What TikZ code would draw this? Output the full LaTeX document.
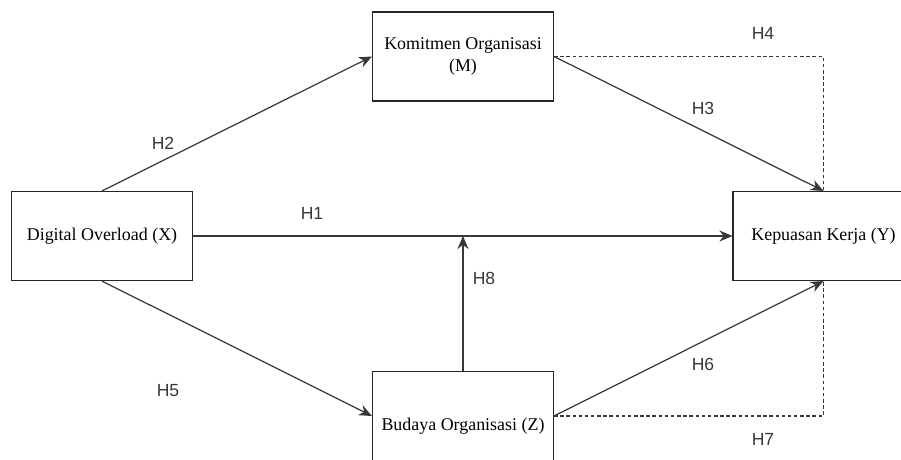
\documentclass[tikz,border=0pt]{standalone}
\usepackage{fontspec}
\setmainfont{Liberation Serif}
\newfontfamily\hypfont{Liberation Sans}
\usepackage{tikz}
\usetikzlibrary{arrows.meta,positioning}

\begin{document}
\begin{tikzpicture}[scale=1.0,
  box/.style={draw=black!85,line width=0.65pt,minimum width=3.62cm,minimum height=1.78cm,
    align=center,font=\fontsize{10.2}{13}\selectfont},
  arr/.style={draw=black!78,line width=0.7pt,-{Stealth[length=2.6mm,width=2.2mm]}},
  dsh/.style={draw=black!78,line width=0.65pt,dash pattern=on 2pt off 1.5pt},
  hyp/.style={font=\hypfont\fontsize{10}{12}\selectfont,text=black!78}]
  \useasboundingbox (0,0) rectangle (18.02,9.18);
  % variables
  \node[box] (X) at (2.04,4.46) {Digital Overload (X)};
  \node[box] (M) at (9.26,8.05) {Komitmen Organisasi\\(M)};
  \node[box,text height=0.67cm] (Z) at (9.26,0.86) {Budaya Organisasi (Z)};
  \node[box] (Y) at (16.47,4.46) {Kepuasan Kerja (Y)};
  % chemins directs
  \draw[arr] (X.north) -- (M.west);
  \draw[arr] (X.east) -- (Y.west);
  \draw[arr] (X.south) -- (Z.west);
  \draw[arr] (M.east) -- (Y.north);
  \draw[arr] (Z.east) -- (Y.south);
  % chemins indirects
  \draw[dsh] (M.east) -| (Y.north);
  \draw[dsh] (Z.east) -| (Y.south);
  % moderation
  \coordinate (mod) at (Z.north |- X.east);
  \draw[arr] (Z.north) -- (mod);
  % hypotheses
  \node[hyp] (h1) at (6.24,4.92) {H1};
  \node[hyp] (h2) at (3.26,6.32) {H2};
  \node[hyp] (h3) at (14.06,7.02) {H3};
  \node[hyp] (h4) at (15.26,8.52) {H4};
  \node[hyp] (h5) at (3.36,1.36) {H5};
  \node[hyp] (h6) at (14.06,1.90) {H6};
  \node[hyp] (h7) at (15.26,0.40) {H7};
  \node[hyp] (h8) at (9.68,3.62) {H8};
\end{tikzpicture}
\end{document}
